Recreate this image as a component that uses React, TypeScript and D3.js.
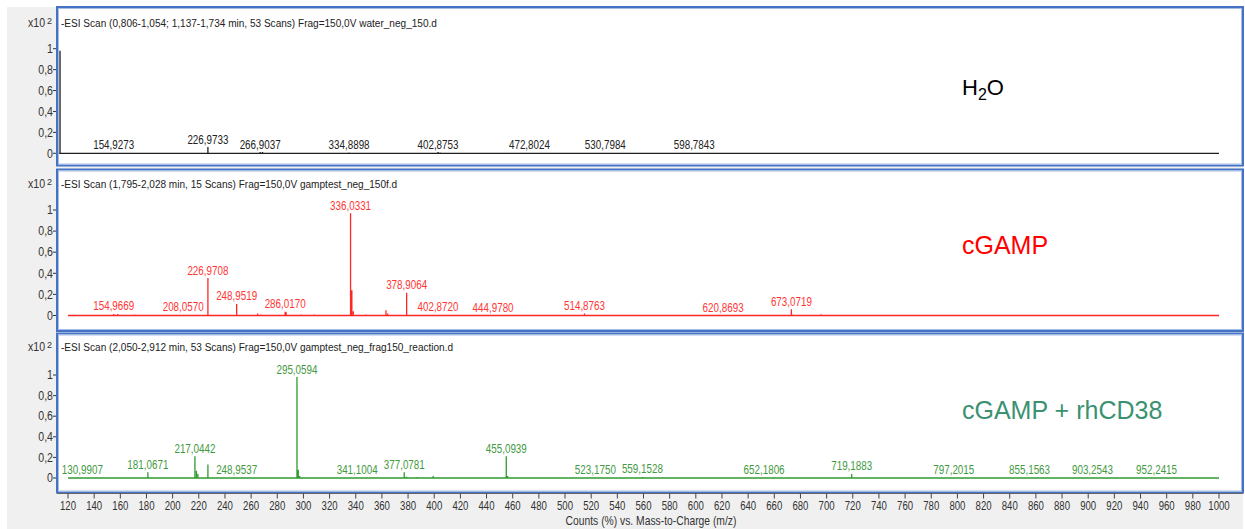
import React from "react";
import * as d3 from "d3";

// ---- data -------------------------------------------------------------
const mzTicks: number[] = d3.range(120, 1001, 20);
const intensityTicks: number[] = [0, 0.2, 0.4, 0.6, 0.8, 1];
const intensityTickLabels: string[] = ["0", "0,2", "0,4", "0,6", "0,8", "1"];

const waterTitle = "-ESI Scan (0,806-1,054; 1,137-1,734 min, 53 Scans) Frag=150,0V water_neg_150.d";
const waterRange: [number, number] = [113.2, 1000];
const waterPeaks: [number, number][] = [
  [113.9, 0.98], [154.93, 0.006], [171.0, 0.003], [226.97, 0.06], [266.9, 0.012],
  [268.7, 0.012], [334.89, 0.008], [402.88, 0.012], [404.5, 0.008], [472.8, 0.004],
  [530.8, 0.004], [598.78, 0.004],
];
const waterLabels: number[] = [154.9273, 226.9733, 266.9037, 334.8898, 402.8753, 472.8024, 530.7984, 598.7843];

const cgampTitle = "-ESI Scan (1,795-2,028 min, 15 Scans) Frag=150,0V gamptest_neg_150f.d";
const cgampRange: [number, number] = [120, 1000];
const cgampPeaks: [number, number][] = [
  [129.0, 0.005], [134.5, 0.005], [154.97, 0.015], [158.0, 0.015], [170.8, 0.01],
  [172.2, 0.006], [200.0, 0.005], [205.0, 0.005], [208.06, 0.006], [226.97, 0.355],
  [240.8, 0.005], [248.95, 0.11], [265.0, 0.02], [267.6, 0.01], [286.02, 0.035],
  [286.8, 0.03], [298.2, 0.01], [308.3, 0.01], [322.3, 0.005], [336.03, 0.97],
  [337.03, 0.24], [338.1, 0.04], [347.8, 0.01], [355.0, 0.005], [363.1, 0.05],
  [364.4, 0.02], [378.91, 0.215], [402.87, 0.008], [404.5, 0.008], [444.98, 0.004],
  [514.88, 0.02], [620.87, 0.004], [673.07, 0.06], [674.1, 0.01], [695.7, 0.012],
];
const cgampLabels: number[] = [154.9669, 208.057, 226.9708, 248.9519, 286.017, 336.0331, 378.9064, 402.872, 444.978, 514.8763, 620.8693, 673.0719];

const reactionTitle = "-ESI Scan (2,050-2,912 min, 53 Scans) Frag=150,0V gamptest_neg_frag150_reaction.d";
const reactionRange: [number, number] = [120, 1000];
const reactionPeaks: [number, number][] = [
  [130.99, 0.004], [181.07, 0.055], [217.04, 0.21], [218.2, 0.07], [219.3, 0.04],
  [226.97, 0.13], [248.95, 0.003], [295.06, 0.98], [296.06, 0.08], [297.1, 0.02],
  [341.1, 0.004], [377.08, 0.055], [378.8, 0.012], [387.1, 0.01], [399.2, 0.02],
  [455.09, 0.21], [456.1, 0.02], [523.18, 0.003], [559.15, 0.01], [652.18, 0.003],
  [719.19, 0.04], [797.2, 0.002], [855.16, 0.002], [903.25, 0.002], [952.24, 0.002],
];
const reactionLabels: number[] = [130.9907, 181.0671, 217.0442, 248.9537, 295.0594, 341.1004, 377.0781, 455.0939, 523.175, 559.1528, 652.1806, 719.1883, 797.2015, 855.1563, 903.2543, 952.2415];

// ---- layout -----------------------------------------------------------
const W = 1245;
const H = 529;
const FONT = "'Liberation Sans', Arial, sans-serif";
const frameLeft = 57;
const frameRight = 1243;
const x = d3.scaleLinear().domain([120, 1000]).range([68, 1219]);

interface PanelSpec {
  title: string;
  range: [number, number];
  peaks: [number, number][];
  labels: number[];
  top: number;
  bottom: number;
  y0: number;
  y1: number;
  titleY: number;
  line: string;
  labelColor: string;
  tag: React.ReactNode;
}

const fmt = (v: number) => d3.format(".4f")(v).replace(".", ",");

function Condensed({ x: tx, y: ty, sx = 0.82, size = 12, anchor = "middle", fill = "#222", children }: any) {
  return (
    <text
      transform={`translate(${tx},${ty}) scale(${sx},1)`}
      textAnchor={anchor}
      fontSize={size}
      fontFamily={FONT}
      fill={fill}
    >
      {children}
    </text>
  );
}

function Panel({ p }: { p: PanelSpec }) {
  const y = d3.scaleLinear().domain([0, 1]).range([p.y0, p.y1]);
  const pts: [number, number][] = [[p.range[0], 0]];
  [...p.peaks].sort((a, b) => a[0] - b[0]).forEach(([mz, h]) => {
    pts.push([mz, 0], [mz, h], [mz, 0]);
  });
  pts.push([p.range[1], 0]);
  const path = d3
    .line<[number, number]>()
    .x((d) => x(d[0]))
    .y((d) => y(d[1]))(pts) as string;

  const labelHeight = (mz: number) =>
    d3.max(p.peaks.filter(([m]) => Math.abs(m - mz) < 1.5), (d) => d[1]) ?? 0;

  return (
    <g>
      <rect x={frameLeft} y={p.top} width={frameRight - frameLeft} height={p.bottom - p.top} fill="#fff" />
      {/* y axis */}
      <line x1={frameLeft + 0.5} x2={frameLeft + 0.5} y1={p.y1 - 14} y2={p.bottom} stroke="#555" strokeWidth={1.5} />
      {intensityTicks.map((t, i) => (
        <g key={t}>
          <line x1={frameLeft - 4} x2={frameLeft} y1={y(t)} y2={y(t)} stroke="#333" strokeWidth={1} />
          <Condensed x={frameLeft - 4} y={y(t) + 4.2} anchor="end" sx={0.88} fill="#333">
            {intensityTickLabels[i]}
          </Condensed>
        </g>
      ))}
      <text
        transform={`translate(45,${p.titleY + 4}) scale(0.88,1)`}
        textAnchor="end"
        fontSize={12}
        fontFamily={FONT}
        fill="#333"
      >
        x10
      </text>
      <text x={47} y={p.titleY + 1} fontSize={9} fontFamily={FONT} fill="#333">
        2
      </text>
      <Condensed x={61} y={p.titleY + 4} anchor="start" sx={0.875} size={11.5} fill="#222">
        {p.title}
      </Condensed>
      <path d={path} fill="none" stroke={p.line} strokeWidth={1.3} />
      {p.labels.map((mz) => (
        <Condensed key={mz} x={x(mz)} y={y(labelHeight(mz)) - 3.5} fill={p.labelColor}>
          {fmt(mz)}
        </Condensed>
      ))}
      {p.tag}
      <rect
        x={frameLeft}
        y={p.top}
        width={frameRight - frameLeft}
        height={p.bottom - p.top}
        fill="none"
        stroke="#4472c4"
        strokeWidth={2}
      />
      <rect
        x={frameLeft + 1.5}
        y={p.top + 1.5}
        width={frameRight - frameLeft - 3}
        height={p.bottom - p.top - 3}
        fill="none"
        stroke="#a8bde6"
        strokeWidth={1}
      />
    </g>
  );
}

const panels: PanelSpec[] = [
  {
    title: waterTitle,
    range: waterRange,
    peaks: waterPeaks,
    labels: waterLabels,
    top: 7,
    bottom: 165.5,
    y0: 153.3,
    y1: 48.7,
    titleY: 22.5,
    line: "#1e1e1e",
    labelColor: "#222",
    tag: (
      <text x={962} y={94.5} fontSize={22} fontFamily={FONT} fill="#000">
        H<tspan fontSize={16} dy={5}>2</tspan>
        <tspan dy={-5}>O</tspan>
      </text>
    ),
  },
  {
    title: cgampTitle,
    range: cgampRange,
    peaks: cgampPeaks,
    labels: cgampLabels,
    top: 169.5,
    bottom: 331,
    y0: 315.5,
    y1: 210,
    titleY: 184,
    line: "#ff2626",
    labelColor: "#ff3535",
    tag: (
      <text x={962} y={253.5} fontSize={25} fontFamily={FONT} fill="#ff0000">
        cGAMP
      </text>
    ),
  },
  {
    title: reactionTitle,
    range: reactionRange,
    peaks: reactionPeaks,
    labels: reactionLabels,
    top: 333.5,
    bottom: 492.5,
    y0: 478,
    y1: 375,
    titleY: 347,
    line: "#2f9a2f",
    labelColor: "#3f9a3f",
    tag: (
      <text x={962} y={418.5} fontSize={25} fontFamily={FONT} fill="#3a9270">
        cGAMP + rhCD38
      </text>
    ),
  },
];

export default function App() {
  return (
    <div style={{ position: "absolute", left: 0, top: 0 }}>
      <svg width={W} height={H} style={{ display: "block", background: "#fff" }}>
        <rect x={7} y={7} width={frameRight - 7} height={H - 7} fill="#f0f0f0" />
        {panels.map((p, i) => (
          <Panel key={i} p={p} />
        ))}
        {/* m/z axis */}
        <line x1={frameLeft} x2={frameRight} y1={493.5} y2={493.5} stroke="#666" strokeWidth={1} />
        {mzTicks.map((t) => (
          <g key={t}>
            <line x1={x(t)} x2={x(t)} y1={493.5} y2={498.5} stroke="#444" strokeWidth={1} />
            <Condensed x={x(t)} y={509.5} sx={0.8} size={12} fill="#333">
              {t}
            </Condensed>
          </g>
        ))}
        <Condensed x={651} y={525} sx={0.86} size={12} fill="#333">
          Counts (%) vs. Mass-to-Charge (m/z)
        </Condensed>
      </svg>
    </div>
  );
}
